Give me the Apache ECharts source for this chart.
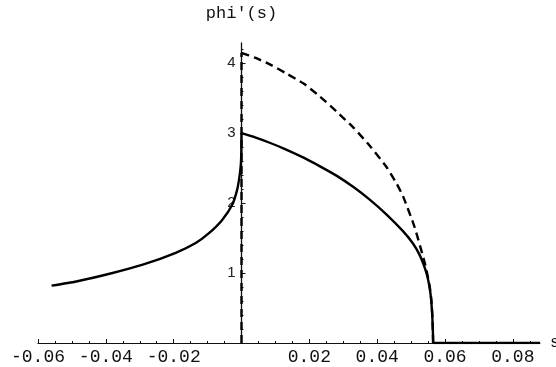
<!DOCTYPE html>
<html>
<head>
<meta charset="utf-8">
<script src="https://cdn.jsdelivr.net/npm/echarts@6/dist/echarts.min.js"></script>
<style>
  html, body { margin: 0; padding: 0; background: #fff; }
  #chart { width: 556px; height: 367px; }
</style>
</head>
<body>
<div id="chart"></div>
<script>
// left branch (s < 0), solid
const leftS   = [-0.056, -0.0487, -0.0389, -0.0291, -0.0194, -0.0135, -0.0096, -0.0057, -0.0027, -0.0013, -0.0006, -0.0002, -0.00005, 0]
const leftPhi = [0.82, 0.88, 0.99, 1.12, 1.29, 1.43, 1.57, 1.76, 1.98, 2.19, 2.38, 2.55, 2.75, 3.0]

// right branch (s > 0), solid
const rightS   = [0, 0.004, 0.0085, 0.013, 0.0183, 0.023, 0.0281, 0.033, 0.0378, 0.0427, 0.0476, 0.0506, 0.0525, 0.054, 0.0548, 0.0555, 0.0559, 0.0562, 0.0564, 0.0565]
const rightPhi = [3.0, 2.94, 2.86, 2.77, 2.65, 2.53, 2.39, 2.23, 2.05, 1.84, 1.60, 1.42, 1.26, 1.08, 0.95, 0.78, 0.62, 0.42, 0.2, 0]
// flat at zero beyond the drop
const tailS   = [0.0565, 0.088]
const tailPhi = [0, 0]

// dashed curve (vertical part at s = 0, then the arc)
const dashVertS   = [0, 0]
const dashVertPhi = [0, 4.15]
const dashS   = [0, 0.004, 0.0085, 0.013, 0.0183, 0.023, 0.028, 0.033, 0.0378, 0.0427, 0.0456, 0.0476, 0.051, 0.054, 0.0548, 0.0555, 0.056, 0.0563, 0.0565]
const dashPhi = [4.15, 4.08, 3.98, 3.86, 3.71, 3.53, 3.31, 3.08, 2.82, 2.52, 2.29, 2.10, 1.66, 1.15, 0.98, 0.8, 0.6, 0.35, 0]

// ticks
const xMajor = [-0.06, -0.04, -0.02, 0, 0.02, 0.04, 0.06, 0.08]
const xLabels = [-0.06, -0.04, -0.02, 0.02, 0.04, 0.06, 0.08]
const yMajor = [0, 1, 2, 3, 4]
const yLabels = [1, 2, 3, 4]
const xMinor = []
for (let i = -12; i <= 17; i++) xMinor.push(+(i * 0.005).toFixed(3))
const yMinor = []
for (let i = 0; i <= 21; i++) yMinor.push(+(i * 0.2).toFixed(1))

const pairs = (a, b) => a.map((v, i) => [v, b[i]])

const W = 556, H = 367
const gLeft = 38, gRight = 16, gTop = 43, gBottom = 24
const xMin = -0.06, xMax = 0.088
// shift the y axis (line, ticks, labels) onto s = 0
const yShift = -(0 - xMin) / (xMax - xMin) * (W - gLeft - gRight)

const chart = echarts.init(document.getElementById('chart'))

const mono = 'Liberation Mono'
const xBase = { type: 'value', min: xMin, max: xMax, splitLine: { show: false } }
const yBase = { type: 'value', min: 0, max: 4.29, splitLine: { show: false }, offset: yShift }

const lineSeries = (data, type, smooth) => ({
  type: 'line', showSymbol: false, symbol: 'none',
  smooth: smooth,
  data: data,
  lineStyle: { color: '#000', width: 2.4, type: type }
})

chart.setOption({
  animation: false,
  backgroundColor: '#fff',
  grid: { left: gLeft, right: gRight, top: gTop, bottom: gBottom, outerBoundsMode: 'none' },
  xAxis: [
    Object.assign({}, xBase, {
      name: 's',
      nameLocation: 'end',
      nameGap: 10,
      nameTextStyle: { fontFamily: mono, fontSize: 16, color: '#111' },
      axisLine: { onZero: true, lineStyle: { color: '#111', width: 1 } },
      axisTick: { inside: true, length: 4, customValues: xMajor, lineStyle: { color: '#111' } },
      axisLabel: {
        customValues: xLabels,
        margin: 5,
        fontFamily: mono, fontSize: 18, color: '#111',
        formatter: v => v.toFixed(2)
      }
    }),
    Object.assign({}, xBase, {
      position: 'bottom',
      axisLine: { show: false, onZero: true },
      axisTick: { inside: true, length: 2, customValues: xMinor, lineStyle: { color: '#111' } },
      axisLabel: { show: false }
    })
  ],
  yAxis: [
    Object.assign({}, yBase, {
      name: "phi'(s)",
      nameLocation: 'end',
      nameGap: 21,
      nameTextStyle: { fontFamily: mono, fontSize: 17, color: '#111', align: 'center' },
      axisLine: { onZero: false, lineStyle: { color: '#111', width: 1.3 } },
      axisTick: { inside: true, length: 4, customValues: yMajor, lineStyle: { color: '#111' } },
      axisLabel: {
        customValues: yLabels,
        margin: 6,
        fontFamily: 'Liberation Sans', fontSize: 15, color: '#222'
      }
    }),
    Object.assign({}, yBase, {
      position: 'left',
      axisLine: { show: false, onZero: false },
      axisTick: { inside: true, length: 2, customValues: yMinor, lineStyle: { color: '#111' } },
      axisLabel: { show: false }
    })
  ],
  series: [
    lineSeries(pairs(leftS, leftPhi), 'solid', 0.2),
    lineSeries(pairs(rightS, rightPhi), 'solid', 0.2),
    lineSeries(pairs(tailS, tailPhi), 'solid', false),
    lineSeries(pairs(dashVertS, dashVertPhi), [8, 5], false),
    lineSeries(pairs(dashS, dashPhi), [8, 5], 0.2)
  ]
})
</script>
</body>
</html>
